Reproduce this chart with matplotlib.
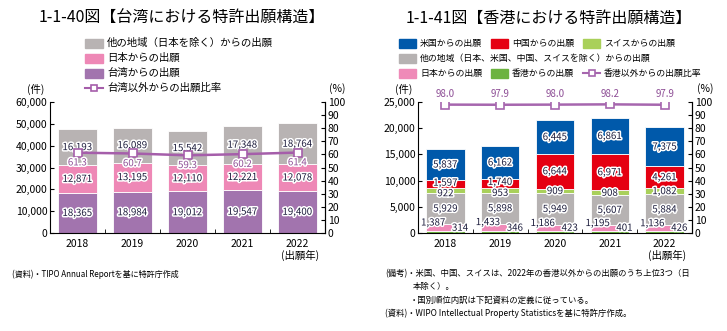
import matplotlib
matplotlib.use('Agg')
import matplotlib.pyplot as plt
import matplotlib.patheffects as pe
from matplotlib.patches import Rectangle
from matplotlib.lines import Line2D

plt.rcParams['font.family'] = ['Noto Sans CJK JP', 'DejaVu Sans']

years = ['2018', '2019', '2020', '2021', '2022']

# 1-1-40 台湾
tw_taiwan = [18365, 18984, 19012, 19547, 19400]
tw_japan = [12871, 13195, 12110, 12221, 12078]
tw_other = [16193, 16089, 15542, 17348, 18764]
tw_rate = [61.3, 60.7, 59.3, 60.2, 61.4]

# 1-1-41 香港
hk_hk = [314, 346, 423, 401, 426]
hk_japan = [1387, 1433, 1186, 1195, 1136]
hk_other = [5929, 5898, 5949, 5607, 5884]
hk_swiss = [922, 953, 909, 908, 1082]
hk_china = [1597, 1740, 6644, 6971, 4261]
hk_us = [5837, 6162, 6445, 6861, 7375]
hk_rate = [98.0, 97.9, 98.0, 98.2, 97.9]

W, H = 727, 331
fig = plt.figure(figsize=(W / 100, H / 100), dpi=100)


def fx(x):
    return x / W


def fy(y):
    return 1 - y / H


txtcol = '#1c1c3c'
halo = [pe.withStroke(linewidth=2.2, foreground='white')]
x = list(range(len(years)))
bw = 0.7


def setup(ax, ax2, ymax, ystep):
    ax.set_xlim(-0.5, 4.5)
    ax.set_ylim(0, ymax)
    ax.set_yticks(range(0, ymax + 1, ystep))
    ax.set_yticklabels(['{:,}'.format(v) for v in range(0, ymax + 1, ystep)])
    ax.set_xticks(x)
    ax.set_xticklabels(years)
    ax.set_xticks([0.5, 1.5, 2.5, 3.5], minor=True)
    ax.tick_params(axis='x', which='major', length=0, labelsize=7.5, pad=4)
    ax.tick_params(axis='x', which='minor', direction='in', length=3)
    ax.tick_params(axis='y', direction='in', length=3, labelsize=7.5, pad=2)
    ax2.set_ylim(0, 100)
    ax2.set_yticks(range(0, 101, 10))
    ax2.tick_params(axis='y', direction='in', length=3, labelsize=7.5, pad=2)
    for a in (ax, ax2):
        a.spines['top'].set_visible(False)
    ax2.spines['left'].set_visible(False)
    ax2.spines['bottom'].set_visible(False)


def seg_labels(ax, bottoms, vals, dx=0.0, dy=None):
    for i, (b, v) in enumerate(zip(bottoms, vals)):
        y = b + v / 2 if dy is None else dy[i]
        ax.text(i + dx, y, '{:,}'.format(v), ha='center', va='center',
                fontsize=7, color=txtcol, path_effects=halo)


def legend_patch(xp, yp, color, label, fs=7.5, pw=18):
    fig.patches.append(Rectangle((fx(xp), fy(yp + 4.5)), fx(pw), 9 / H, color=color,
                                 transform=fig.transFigure, figure=fig))
    fig.text(fx(xp + pw + 4), fy(yp), label, fontsize=fs, va='center', ha='left')


def legend_line(xp, yp, color, label, fs=7.5, pw=18):
    fig.lines.append(Line2D([fx(xp), fx(xp + pw)], [fy(yp), fy(yp)], color=color, lw=1.5,
                            transform=fig.transFigure))
    fig.lines.append(Line2D([fx(xp + pw / 2)], [fy(yp)], color=color, marker='s', ms=5,
                            mfc='white', mew=1.2, transform=fig.transFigure))
    fig.text(fx(xp + pw + 4), fy(yp), label, fontsize=fs, va='center', ha='left')


# ---------- left chart ----------
ax = fig.add_axes([fx(50), fy(233), fx(275), 131 / H])
ax2 = ax.twinx()
c_tw, c_jp, c_ot = '#a274ae', '#ee88b6', '#b8b3b3'
line_c = '#a55eaa'
b1 = [0] * 5
b2 = tw_taiwan
b3 = [a + b for a, b in zip(tw_taiwan, tw_japan)]
ax.bar(x, tw_taiwan, bw, bottom=b1, color=c_tw, edgecolor='white', linewidth=0.6)
ax.bar(x, tw_japan, bw, bottom=b2, color=c_jp, edgecolor='white', linewidth=0.6)
ax.bar(x, tw_other, bw, bottom=b3, color=c_ot, edgecolor='white', linewidth=0.6)
seg_labels(ax, b1, tw_taiwan)
seg_labels(ax, b2, tw_japan)
seg_labels(ax, b3, tw_other)
ax2.plot(x, tw_rate, color=line_c, lw=1.8, marker='s', ms=6, mfc='white', mew=1.2)
for i, r in enumerate(tw_rate):
    ax2.annotate('{:.1f}'.format(r), (i, r), xytext=(0, -7), textcoords='offset points',
                 ha='center', va='center', fontsize=7, color='#8e4f96', path_effects=halo)
setup(ax, ax2, 60000, 10000)

fig.text(fx(182), fy(18), '1-1-40図【台湾における特許出願構造】', fontsize=11.5,
         ha='center', va='center')
legend_patch(85, 43, c_ot, '他の地域（日本を除く）からの出願')
legend_patch(85, 58, c_jp, '日本からの出願')
legend_patch(85, 73, c_tw, '台湾からの出願')
legend_line(85, 88, line_c, '台湾以外からの出願比率')
fig.text(fx(36), fy(89), '(件)', fontsize=7.5, ha='center', va='center')
fig.text(fx(337), fy(89), '(%)', fontsize=7.5, ha='center', va='center')
fig.text(fx(300), fy(255), '(出願年)', fontsize=7.5, ha='center', va='center')
fig.text(fx(12), fy(274), '(資料)・TIPO Annual Reportを基に特許庁作成', fontsize=5.8,
         ha='left', va='center')

# ---------- right chart ----------
axr = fig.add_axes([fx(418), fy(233), fx(274), 131 / H])
axr2 = axr.twinx()
c_hk, c_jp2, c_ot2 = '#6cb33f', '#ef8ab8', '#b6b2b2'
c_sw, c_cn, c_us = '#a9d05a', '#e50012', '#0059aa'
line_c2 = '#a666ae'
stack = [hk_hk, hk_japan, hk_other, hk_swiss, hk_china, hk_us]
cols = [c_hk, c_jp2, c_ot2, c_sw, c_cn, c_us]
bottom = [0] * 5
bottoms = []
for vals, c in zip(stack, cols):
    bottoms.append(list(bottom))
    axr.bar(x, vals, bw, bottom=bottom, color=c, edgecolor='white', linewidth=0.6)
    bottom = [a + b for a, b in zip(bottom, vals)]
seg_labels(axr, bottoms[0], hk_hk, dx=0.27, dy=[1000] * 5)
seg_labels(axr, bottoms[1], hk_japan, dx=-0.22,
           dy=[b + v + 300 for b, v in zip(bottoms[1], hk_japan)])
seg_labels(axr, bottoms[2], hk_other)
# small China segments: push the Swiss label down, China label up
sw_y = [b + v / 2 - (500 if cn < 3000 else 0)
        for b, v, cn in zip(bottoms[3], hk_swiss, hk_china)]
cn_y = [b + v / 2 + (250 if v < 3000 else 0) for b, v in zip(bottoms[4], hk_china)]
seg_labels(axr, bottoms[3], hk_swiss, dy=sw_y)
seg_labels(axr, bottoms[4], hk_china, dy=cn_y)
seg_labels(axr, bottoms[5], hk_us)
axr2.plot(x, hk_rate, color=line_c2, lw=1.8, marker='s', ms=6, mfc='white', mew=1.2)
for i, r in enumerate(hk_rate):
    axr2.annotate('{:.1f}'.format(r), (i, r), xytext=(0, 7.5), textcoords='offset points',
                  ha='center', va='center', fontsize=7, color='#8e4f96')
setup(axr, axr2, 25000, 5000)

fig.text(fx(549), fy(18), '1-1-41図【香港における特許出願構造】', fontsize=11.5,
         ha='center', va='center')
legend_patch(399, 43, c_us, '米国からの出願', fs=6.4, pw=17)
legend_patch(491, 43, c_cn, '中国からの出願', fs=6.4, pw=17)
legend_patch(583, 43, c_sw, 'スイスからの出願', fs=6.4, pw=17)
legend_patch(399, 58, c_ot2, '他の地域（日本、米国、中国、スイスを除く）からの出願', fs=6.4, pw=17)
legend_patch(399, 73, c_jp2, '日本からの出願', fs=6.4, pw=17)
legend_patch(491, 73, c_hk, '香港からの出願', fs=6.4, pw=17)
legend_line(583, 73, line_c2, '香港以外からの出願比率', fs=6.4, pw=17)
fig.text(fx(404), fy(89), '(件)', fontsize=7.5, ha='center', va='center')
fig.text(fx(705), fy(89), '(%)', fontsize=7.5, ha='center', va='center')
fig.text(fx(667), fy(255), '(出願年)', fontsize=7.5, ha='center', va='center')
notes = [
    (385, 274, '(備考)・米国、中国、スイスは、2022年の香港以外からの出願のうち上位3つ（日'),
    (413, 287, '本除く）。'),
    (410, 300, '・国別順位内訳は下記資料の定義に従っている。'),
    (385, 313, '(資料)・WIPO Intellectual Property Statisticsを基に特許庁作成。'),
]
for xp, yp, t in notes:
    fig.text(fx(xp), fy(yp), t, fontsize=6, ha='left', va='center')

fig.savefig('out.png', dpi=100)
